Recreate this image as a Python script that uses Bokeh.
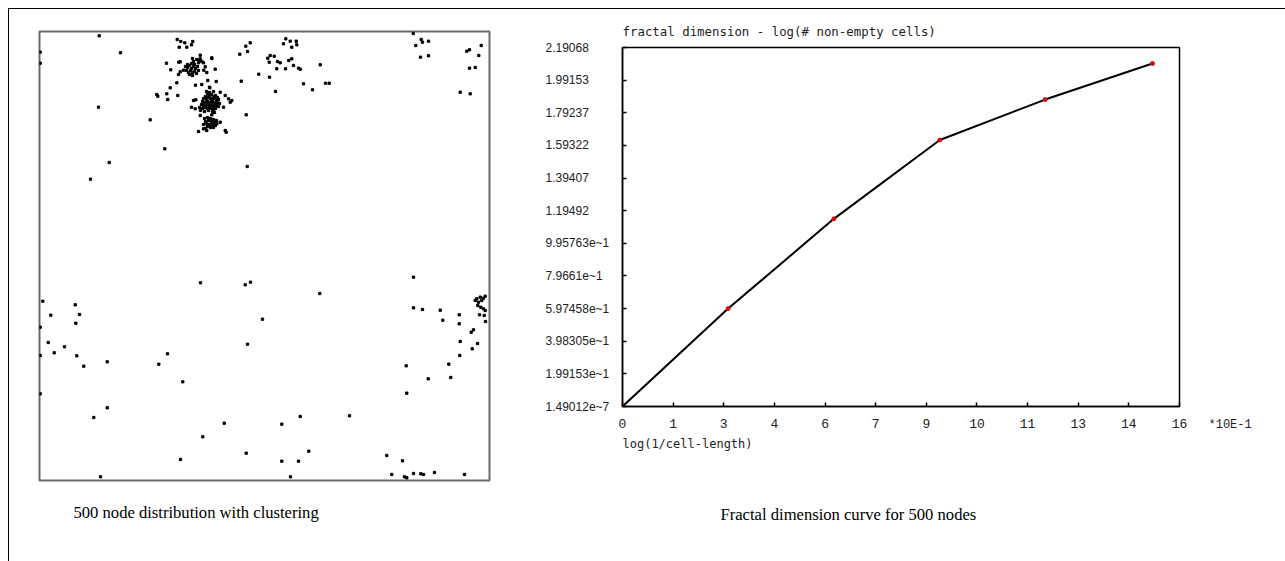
from bokeh.plotting import figure
from bokeh.models import Range1d, FixedTicker, Title, Spacer
from bokeh.embed import file_html
from bokeh.resources import INLINE

# ---------------- data: node positions (field 0..450 x 0..449) ----------------
sparse_x = [59.7, 81, 59, 110.7, 125.3, 69.7, 51,
            137.7, 141.3, 145.3, 153.3, 139.7, 147.3, 152, 127, 131.3, 139.3, 139, 137.3, 130.7,
            117.3, 118.3, 127.3, 128.3, 138.3, 156, 168.3, 176.7, 170.3, 172.3, 175.7, 164.3,
            160.7, 156.3, 152, 159, 186.7, 206.7, 201.7, 200.3, 206.3, 208, 210.7, 219.3, 228.3,
            230.7, 234.7, 229.7, 238, 240.7, 237.3, 230, 246, 249.3, 252.3, 254, 259, 260.7, 236,
            264, 273, 280.7, 286, 289.7, 246.3, 250.7, 252.3, 256.7, 257.3, 244, 207.7,
            373.7, 376.3, 381.7, 383, 389, 381, 389, 427.3, 430, 441.7, 439.3, 430, 435.7, 420.7, 430.7,
            161, 205.7, 211, 280.3, 223, 208, 374, 3.3, 11.3, 35.7, 40, 36.3, 8.7, 14.7, 25, 37.3,
            44.3, 67.7, 119.3, 128, 143.3, 67.7, 54.3, 184.7, 163.3, 242.3, 260.7, 310, 206.7, 269.3,
            242.3, 259, 141, 61, 251, 347.3, 363, 352.3, 365, 367.3, 374, 381.3, 384, 395, 425,
            366.7, 367.3, 388.7, 374, 383, 400.7, 403.3, 419.7, 419.7, 431.7, 434, 420.7, 438, 432.7,
            420.3, 409.3, 411.3,
            435.7, 437.3, 439, 440.7, 442.3, 444, 445.7, 438.3, 444, 445.7, 440, 444.7, 446, 441.3,
            0.7, 0.7, 0.7, 0.7, 0.7]
sparse_y = [444.7, 427.7, 373.3, 360.7, 331.7, 318, 301.3,
            441, 439, 437.7, 439, 433.3, 433.3, 435.7, 417.3, 410.7, 418.3, 406, 397.7, 392.7,
            386, 384.3, 386.7, 381, 385, 395.3, 400, 399, 392.7, 422.7, 411.3, 410.3,
            421.7, 380.7, 373.3, 349, 348.3, 365.7, 399.3, 426.3, 434.3, 429, 437.7, 406.3, 422.3,
            425, 424.3, 418.3, 419, 417.7, 411.7, 403.3, 411.7, 420, 421.7, 415, 412.3, 411.3, 389,
            396.7, 390.7, 415.7, 397.3, 397.3, 441.7, 439.3, 433.3, 439.3, 435.7, 436.7, 314,
            447, 435, 441, 438.3, 439.3, 423.3, 424.7, 429.3, 430.7, 435, 425, 412.3, 413, 388.3, 386.7,
            197.7, 195.7, 198.3, 187, 161.3, 136.3, 203.3, 179.3, 165.3, 175.7, 166, 157.3, 138, 127.7, 133.7, 124.7,
            114.3, 118.7, 116.3, 126.7, 98.7, 72.7, 63, 57.3, 43.7, 56.3, 64, 64.7, 27.3, 29.3,
            19.3, 19.3, 21, 3.7, 3.7, 25, 19.7, 6, 3.7, 2.7, 7, 6.7, 6, 8, 6,
            114.7, 87.3, 101.7, 172.7, 171, 170.3, 160.3, 165.7, 156.7, 148.3, 150.7, 139, 137, 131.7,
            125, 116.3, 103,
            180, 181.7, 178.3, 183.3, 180, 182.3, 184.3, 175, 171.7, 170, 165.7, 165, 159, 173.3,
            428.3, 417.3, 153.3, 125, 86.7]

cluster_a_x = [148, 150, 152, 154, 156, 151, 149, 153, 155, 147, 158, 150, 153, 157, 146, 152, 155, 159, 148, 154,
               160.7, 153, 157.3, 160, 162.3, 164, 159, 165.7, 172.3, 140.7, 167.3, 140.7, 144, 162.3]
cluster_a_y = [413, 415, 417, 414, 412, 410, 408, 408, 409, 410, 414, 406, 405, 407, 414, 412, 416, 410, 416, 419,
               425.3, 422, 421, 420.3, 419, 417.7, 417.7, 413.7, 422, 418.7, 408, 408.7, 410.3, 396]

cluster_b_x = [166, 168, 170, 172, 174, 176, 178,
               164, 167, 169, 171, 173, 175, 177, 179,
               163, 165, 168, 170, 172, 174, 176, 178, 180,
               162, 164, 167, 169, 171, 173, 175, 177, 179,
               160, 163, 166, 168, 170, 172, 174, 176,
               161, 165, 169, 173, 175, 170, 174, 167,
               170, 180.7, 185.7, 189, 190.7, 192.3, 154, 155.7, 184, 160.7, 172.3]
cluster_b_y = [384, 386, 385, 386, 384, 385, 383,
               382, 381, 383, 382, 381, 382, 380, 381,
               379, 378, 379, 378, 379, 378, 377, 378, 377,
               376, 375, 376, 375, 376, 375, 374, 375, 374,
               373, 372, 373, 372, 373, 372, 371, 372,
               370, 369, 370, 369, 368, 388, 389, 389,
               393.3, 388.3, 385, 381.7, 378.3, 380, 380, 371.7, 373.3, 365, 365.7]

cluster_c_x = [165, 168, 171, 174, 166, 169, 172, 175, 177, 164, 167, 170, 173, 176, 168, 171, 174, 166,
               164, 167.3, 177.3, 180.7, 185.7]
cluster_c_y = [362, 363, 362, 361, 359, 360, 359, 358, 360, 356, 357, 356, 356, 355, 354, 353, 353, 352,
               351.7, 350, 356.7, 358.3, 350]

node_x = sparse_x + cluster_a_x + cluster_b_x + cluster_c_x
node_y = sparse_y + cluster_a_y + cluster_b_y + cluster_c_y

# ---------------- data: fractal dimension curve ----------------
log_inv_len = [0, 3.13, 6.26, 9.4, 12.52, 15.7]          # *10E-1
log_cells = [0.0, 0.5975, 1.145, 1.626, 1.873, 2.093]

x_ticks = [0, 1.5, 3, 4.5, 6, 7.5, 9, 10.5, 12, 13.5, 15, 16.5]
x_tick_labels = ["0", "1", "3", "4", "6", "7", "9", "10", "11", "13", "14", "16"]
y_step = 0.199153
y_tick_labels = ["1.49012e~7", "1.99153e~1", "3.98305e~1", "5.97458e~1", "7.9661e~1",
                 "9.95763e~1", "1.19492", "1.39407", "1.59322", "1.79237", "1.99153", "2.19068"]
y_ticks = [i * y_step for i in range(len(y_tick_labels))]
y_max = 11 * y_step

caption_font = "Liberation Serif"


def text_box(text, left, top, width, height, font, size, color):
    """A blank little figure whose only content is its title text."""
    f = figure(width=width, height=height, output_backend="svg", toolbar_location=None,
               x_axis_type=None, y_axis_type=None, min_border=0,
               x_range=Range1d(0, 1), y_range=Range1d(0, 1),
               title=text, outline_line_color=None,
               styles={"position": "absolute", "left": f"{left}px", "top": f"{top}px"})
    f.grid.visible = False
    f.title.align = "left"
    f.title.standoff = 0
    f.title.text_font = font
    f.title.text_font_size = size
    f.title.text_font_style = "normal"
    f.title.text_color = color
    return f


# outer rules of the page (top and left)
rule_top = Spacer(width=1277, height=1,
                  styles={"position": "absolute", "left": "8px", "top": "8px",
                          "background-color": "black", "z-index": "30"})
rule_left = Spacer(width=1, height=553,
                   styles={"position": "absolute", "left": "8px", "top": "8px",
                           "background-color": "black", "z-index": "30"})

# ---------------- left: node distribution ----------------
p1 = figure(width=528, height=551, output_backend="svg", toolbar_location=None,
            x_range=Range1d(0, 450), y_range=Range1d(0, 449),
            x_axis_type=None, y_axis_type=None,
            min_border_left=30, min_border_right=48, min_border_top=21, min_border_bottom=81,
            styles={"position": "absolute", "left": "9px", "top": "10px"})
p1.grid.visible = False
p1.outline_line_color = "#6a6a6a"
p1.outline_line_width = 2
p1.border_fill_color = "white"
p1.scatter(node_x, node_y, marker="square", size=2.3, color="black")
p1.add_layout(Title(text="500 node distribution with clustering", align="left", offset=34,
                    standoff=40, text_font=caption_font, text_font_size="16.6px",
                    text_font_style="normal", text_color="black"), "below")

# ---------------- right: fractal dimension curve ----------------
p2 = figure(width=673, height=552, output_backend="svg", toolbar_location=None,
            x_range=Range1d(0, 16.5), y_range=Range1d(0, y_max),
            min_border_left=10, min_border_right=106, min_border_top=38, min_border_bottom=155,
            styles={"position": "absolute", "left": "612px", "top": "9px"})
p2.grid.visible = False
p2.outline_line_color = "black"
p2.outline_line_width = 1.5
p2.border_fill_color = "white"

p2.title.text = "fractal dimension - log(# non-empty cells)"
p2.title.align = "left"
p2.title.text_font = "DejaVu Sans Mono"
p2.title.text_font_size = "12.4px"
p2.title.text_font_style = "normal"
p2.title.text_color = "#222222"
p2.title.standoff = 17

p2.xaxis.ticker = FixedTicker(ticks=x_ticks)
p2.xaxis.major_label_overrides = {t: l for t, l in zip(x_ticks, x_tick_labels)}
p2.yaxis.ticker = FixedTicker(ticks=list(y_ticks))
p2.yaxis.major_label_overrides = {t: "" for t in y_ticks}   # labels drawn left-aligned by p4
p2.yaxis.major_label_standoff = 0
for ax in (p2.xaxis, p2.yaxis):
    ax.minor_tick_line_color = None
    ax.major_tick_in = 4
    ax.major_tick_out = 0
    ax.axis_line_width = 1.5
    ax.major_tick_line_width = 1.5
    ax.axis_line_color = "black"
    ax.major_tick_line_color = "black"
    ax.major_label_text_color = "#222222"
p2.xaxis.major_label_text_font = "Liberation Mono"
p2.xaxis.major_label_text_font_size = "13px"
p2.xaxis.major_label_standoff = 12

p2.line(log_inv_len, log_cells, line_color="black", line_width=2)
p2.scatter(log_inv_len, log_cells, marker="circle", size=4, color="#d01010")

p2.add_layout(Title(text="log(1/cell-length)", align="left", standoff=9,
                    text_font="DejaVu Sans Mono", text_font_size="12px",
                    text_font_style="normal", text_color="#222222"), "below")

# y tick labels, left-aligned in a column (axis on the right of a narrow blank frame)
p4 = figure(width=75, height=379, output_backend="svg", toolbar_location=None,
            x_axis_type=None, y_axis_location="right",
            x_range=Range1d(0, 1), y_range=Range1d(0, y_max),
            min_border_left=0, min_border_right=70, min_border_top=10, min_border_bottom=10,
            outline_line_color=None,
            styles={"position": "absolute", "left": "537px", "top": "37px"})
p4.grid.visible = False
p4.yaxis.ticker = FixedTicker(ticks=list(y_ticks))
p4.yaxis.major_label_overrides = {t: l for t, l in zip(y_ticks, y_tick_labels)}
p4.yaxis.axis_line_color = None
p4.yaxis.major_tick_line_color = None
p4.yaxis.minor_tick_line_color = None
p4.yaxis.major_tick_in = 0
p4.yaxis.major_tick_out = 0
p4.yaxis.major_label_standoff = 3
p4.yaxis.major_label_text_font = "Liberation Sans"
p4.yaxis.major_label_text_font_size = "12px"
p4.yaxis.major_label_text_color = "#222222"

# x-axis scale note and the caption of the right panel
p3 = text_box("*10E-1", 1208, 415, 70, 22, "Liberation Mono", "12px", "#222222")
p5 = text_box("Fractal dimension curve for 500 nodes", 720, 502, 320, 28,
              caption_font, "16.6px", "black")

open("out.html", "w").write(file_html([p1, p2, p4, p3, p5, rule_top, rule_left], INLINE))
